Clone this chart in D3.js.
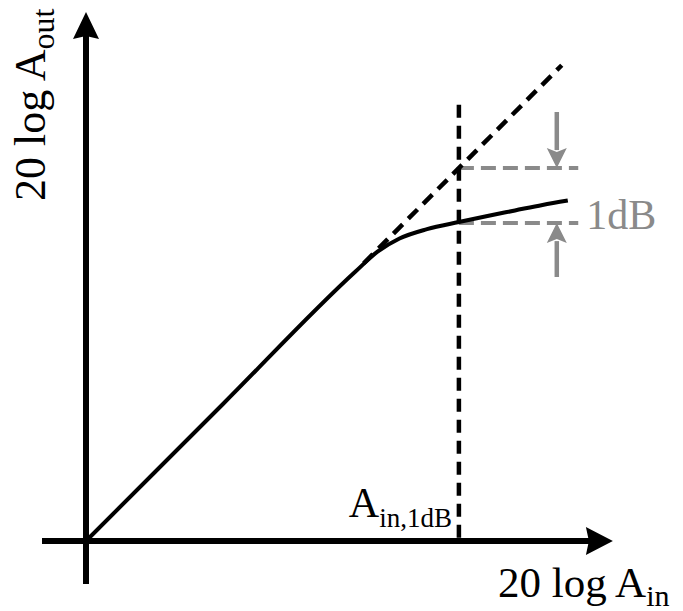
<!DOCTYPE html>
<html>
<head>
<meta charset="utf-8">
<script src="https://cdn.jsdelivr.net/npm/d3@7"></script>
<style>
  #plot text, #plot tspan { font-family: "Liberation Serif", "Times New Roman", serif !important; }
</style>
</head>
<body style="margin:0;background:#fff">
<svg id="plot" width="683" height="611" style="display:block"></svg>
<script>
// Amplifier transfer curve (dB in / dB out) with the 1 dB compression point
const inputDb  = [0, 2.5, 4.9, 5.3, 5.7, 6.2, 6.78, 7.3, 7.8, 8.3, 8.76];
const outputDb = [0, 2.5, 4.9, 5.26, 5.5, 5.67, 5.8, 5.91, 6.01, 6.11, 6.19];

// Ideal (uncompressed) linear extrapolation
const idealDb = [5.05, 8.65];

// Compression point and reference levels
const ain1dB = 6.78;
const compressionDb = 1;
const markerEnd = 8.95;      // right end of the grey reference lines
const arrowX = 8.56;         // position of the grey arrows
const arrowDownFrom = 7.8;
const arrowUpFrom = 4.8;
const vLineTop = 7.93;

// Axis extents
const xAxisExtent = [-0.8, 9.58];
const yAxisExtent = [-0.78, 9.62];

// Labels
const labelX = "20 log A";
const labelXSub = "in";
const labelY = "20 log A";
const labelYSub = "out";
const labelP = "A";
const labelPSub = "in,1dB";
const labelDb = "1dB";

const svg = d3.select("#plot");
const x = d3.scaleLinear().domain([0, 10]).range([86, 636]);
const y = d3.scaleLinear().domain([0, 10]).range([541, -9]);

const grey = "#8a8a8a";

// ---- axes ----
const axisW = 6, headLen = 27, headHalf = 14, notch = 3;
const x0 = x(0), y0 = y(0);
const xTip = x(xAxisExtent[1]), yTip = y(yAxisExtent[1]);

svg.append("line")
  .attr("x1", x(xAxisExtent[0])).attr("x2", xTip - headLen + notch + 1)
  .attr("y1", y0).attr("y2", y0)
  .attr("stroke", "#000").attr("stroke-width", axisW);
svg.append("path")
  .attr("d", `M${xTip},${y0} L${xTip - headLen},${y0 - headHalf} L${xTip - headLen + notch},${y0} L${xTip - headLen},${y0 + headHalf} Z`)
  .attr("fill", "#000");

svg.append("line")
  .attr("x1", x0).attr("x2", x0)
  .attr("y1", y(yAxisExtent[0])).attr("y2", yTip + headLen - notch - 1)
  .attr("stroke", "#000").attr("stroke-width", axisW);
svg.append("path")
  .attr("d", `M${x0},${yTip} L${x0 - headHalf + 1},${yTip + headLen} L${x0},${yTip + headLen - notch} L${x0 + headHalf - 1},${yTip + headLen} Z`)
  .attr("fill", "#000");

// ---- grey 1 dB reference lines ----
[ain1dB, ain1dB - compressionDb].forEach(v => {
  svg.append("line")
    .attr("x1", x(ain1dB)).attr("x2", x(markerEnd))
    .attr("y1", y(v)).attr("y2", y(v))
    .attr("stroke", grey).attr("stroke-width", 4)
    .attr("stroke-dasharray", "15,7");
});

// grey arrows pointing at the two reference lines
function greyArrow(fromV, toV) {
  const ax = x(arrowX), ys = y(fromV), ye = y(toV);
  const dir = Math.sign(ye - ys);
  const hl = 20, hw = 10;
  svg.append("line")
    .attr("x1", ax).attr("x2", ax)
    .attr("y1", ys).attr("y2", ye - dir * (hl - 2))
    .attr("stroke", grey).attr("stroke-width", 4.5);
  svg.append("path")
    .attr("d", `M${ax},${ye} L${ax - hw},${ye - dir * hl} L${ax},${ye - dir * (hl - 4)} L${ax + hw},${ye - dir * hl} Z`)
    .attr("fill", grey);
}
greyArrow(arrowDownFrom, ain1dB);
greyArrow(arrowUpFrom, ain1dB - compressionDb);

// ---- transfer curve ----
const pts = inputDb.map((d, i) => [d, outputDb[i]]);
svg.append("path")
  .datum(pts)
  .attr("d", d3.line().x(d => x(d[0])).y(d => y(d[1])).curve(d3.curveMonotoneX))
  .attr("fill", "none").attr("stroke", "#000").attr("stroke-width", 4);

// ideal extrapolation (dashed)
svg.append("line")
  .attr("x1", x(idealDb[0])).attr("y1", y(idealDb[0]))
  .attr("x2", x(idealDb[1])).attr("y2", y(idealDb[1]))
  .attr("stroke", "#000").attr("stroke-width", 4.5)
  .attr("stroke-dasharray", "13,8");

// vertical line at the compression point
svg.append("line")
  .attr("x1", x(ain1dB)).attr("x2", x(ain1dB))
  .attr("y1", y(vLineTop)).attr("y2", y0)
  .attr("stroke", "#000").attr("stroke-width", 4.5)
  .attr("stroke-dasharray", "13,8");

// ---- labels ----
function label(tx, ty, rot) {
  return svg.append("text")
    .attr("transform", `translate(${tx},${ty})${rot ? " rotate(" + rot + ")" : ""}`)
    .attr("font-family", "Liberation Serif");
}

label(x(markerEnd) + 8, y(ain1dB - compressionDb) + 6)
  .attr("fill", grey).attr("font-size", 42)
  .text(labelDb);

const pl = label(x(ain1dB) - 7, 517).attr("text-anchor", "end").attr("font-size", 42);
pl.append("tspan").text(labelP);
pl.append("tspan").attr("font-size", 27).attr("dy", 10).text(labelPSub);

const xl = label(498, 597).attr("font-size", 43);
xl.append("tspan").text(labelX);
xl.append("tspan").attr("font-size", 30).attr("dy", 9).text(labelXSub);

const yl = label(45, 201, -90).attr("font-size", 44);
yl.append("tspan").text(labelY);
yl.append("tspan").attr("font-size", 32).attr("dy", 9).text(labelYSub);
</script>
</body>
</html>
